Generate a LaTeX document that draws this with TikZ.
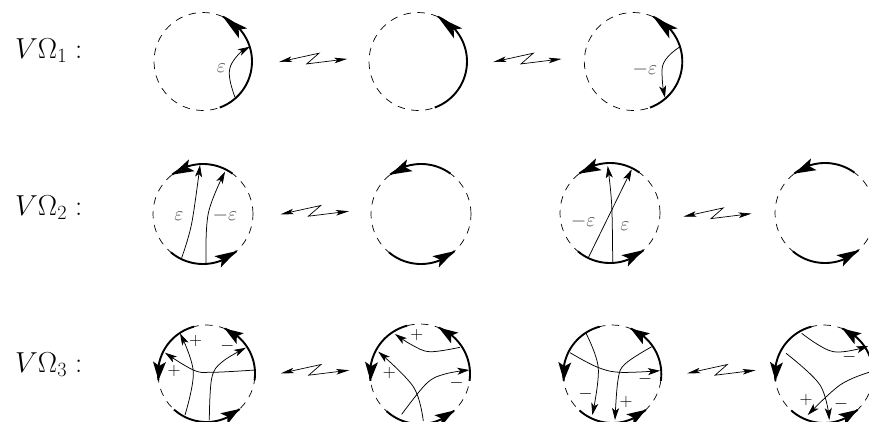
\RequirePackage{fix-cm}
\documentclass[tikz,border=0pt]{standalone}
\usetikzlibrary{arrows.meta,calc}
\tikzset{
  thinline/.style={line width=0.75bp,-{Stealth[length=12bp,width=7bp,inset=3bp]}},
  zigline/.style={line width=0.7bp,{Stealth[length=13bp,width=5.5bp,inset=3bp]}-{Stealth[length=13bp,width=5.5bp,inset=3bp]}},
  thickarc/.style={line width=1.9bp,line cap=butt},
  dashcircle/.style={line width=0.7bp,dash pattern=on 7.5bp off 6.5bp},
  rowlabel/.style={anchor=base west,inner sep=0pt,font=\fontsize{29}{32}\selectfont},
  eps/.style={inner sep=0pt,text=black!70,font=\fontsize{20}{22}\selectfont},
  sign/.style={inner sep=0pt,font=\fontsize{18}{20}\selectfont}
}
% #1 cx, #2 cy, #3 r : dashed circle
\newcommand\dcirc[3]{\draw[dashcircle] (#1,#2) circle[radius=#3 bp];}
% #1 cx, #2 cy, #3 r, #4 from angle, #5 to angle : thick arc
\newcommand\tarc[5]{\draw[thickarc] plot[domain=#4:#5,samples=40] ({#1+#3*cos(\x)},{#2-#3*sin(\x)});}
% #1 cx, #2 cy, #3 r, #4 from angle, #5 to angle, #6 angular length of head : thick arc with head
\newcommand\harc[6]{\tarc{#1}{#2}{#3}{#4}{#5}
  \pgfmathsetmacro\hb{#5+(#4<#5?-1:1)*#6}
  \coordinate (T) at ({#1+#3*cos(#5)},{#2-#3*sin(#5)});
  \coordinate (B) at ({#1+#3*cos(\hb)},{#2-#3*sin(\hb)});
  \fill ($(B)!6.5bp!90:(T)$) -- (T) -- ($(B)!6.5bp!-90:(T)$) -- ($(T)!0.78!(B)$) -- cycle;}
% #1 x, #2 y : lightning connector
\newcommand\zig[2]{\draw[zigline] (#1,#2) -- ++(40,-8.8) -- ++(-12.3,10.7) -- ++(40.6,-5);}
\newcommand\rowtwo[2]{\dcirc{#1}{#2}{50}\harc{#1}{#2}{50}{54}{128}{25}\harc{#1}{#2}{50}{230}{312}{25}}
\newcommand\rowthree[3]{\dcirc{#1}{#2}{#3}\harc{#1}{#2}{#3}{105}{188}{22}\harc{#1}{#2}{#3}{-8}{68}{22}\harc{#1}{#2}{#3}{228}{313}{22}}
\begin{document}
\begin{tikzpicture}[x=1bp,y=-1bp]
\useasboundingbox (0,0) rectangle (869,421);
\clip (0,0) rectangle (869,421);
% row labels
\node[rowlabel] (L1) at (15,58) {$V\Omega_1:$};
\node[rowlabel] (L2) at (15,215) {$V\Omega_2:$};
\node[rowlabel] (L3) at (15,372) {$V\Omega_3:$};
% row 1
\dcirc{203}{61.5}{49}\harc{203}{61.5}{49}{-70}{66}{31}
\draw[thinline] (235,97.3) .. controls (228,78) and (228,70) .. (232,63) .. controls (236,56) and (242,51) .. (250,46.7);
\node[eps] (e1) at (221.5,68) {$\varepsilon$};
\zig{279}{62}
\dcirc{418}{61.5}{49}\harc{418}{61.5}{49}{-70}{66}{31}
\zig{493.3}{62}
\dcirc{633.3}{61.5}{49}\harc{633.3}{61.5}{49}{-70}{66}{31}
\draw[thinline] (680,46.7) .. controls (672,52) and (662,60) .. (662,70) .. controls (662,80) and (663,88) .. (665,97.7);
\node[eps] (e2) at (645,69.3) {$-\varepsilon$};
% row 2
\rowtwo{203}{214}
\draw[thinline] plot[smooth,tension=0.6] coordinates {(181.7,257.7) (191.7,223.3) (200,165)};
\draw[thinline] plot[smooth,tension=0.6] coordinates {(206,263.3) (208.3,213.3) (225,171.7)};
\node[eps] (e3) at (179,216) {$\varepsilon$};
\node[eps] (e4) at (225,216) {$-\varepsilon$};
\zig{280.7}{214.3}
\rowtwo{421}{214}
\rowtwo{610}{213}
\draw[thinline] (588.3,257.7) -- (631.7,169.3);
\draw[thinline] plot[smooth,tension=0.6] coordinates {(612.7,263.3) (611.7,205) (607.7,166)};
\node[eps] (e5) at (583.3,221.7) {$-\varepsilon$};
\node[eps] (e6) at (625,226.7) {$\varepsilon$};
\zig{683.3}{216.7}
\rowtwo{825}{213}
% row 3
\rowthree{206.5}{373.5}{48.5}
\draw[thinline] plot[smooth,tension=0.6] coordinates {(185,415) (193.3,371.7) (180,333.3)};
\draw[thinline] plot[smooth,tension=0.6] coordinates {(209.3,420) (211.7,378.3) (222,362) (246,347.7)};
\draw[thinline] plot[smooth,tension=0.6] coordinates {(255,370) (211.7,372.3) (193.3,370) (165,352.7)};
\node[sign] (s1) at (195.7,340.7) {$\mathbf{+}$};
\node[sign] (s2) at (227.3,346) {$\mathbf{-}$};
\node[sign] (s3) at (174,370.7) {$\mathbf{+}$};
\zig{281}{373.3}
\rowthree{420}{374}{50}
\draw[thinline] plot[smooth,tension=0.6] coordinates {(460,347.3) (430,351.7) (412,345) (395,334)};
\draw[thinline] plot[smooth,tension=0.6] coordinates {(423.3,421) (413.3,386.7) (378.3,351.7)};
\draw[thinline] plot[smooth,tension=0.6] coordinates {(401.7,414.3) (426.7,383.3) (445,374) (469.3,370)};
\node[sign] (s4) at (416.7,335) {$\mathbf{+}$};
\node[sign] (s5) at (389.3,373.3) {$\mathbf{+}$};
\node[sign] (s6) at (456.7,383.3) {$\mathbf{-}$};
\rowthree{612.3}{374}{49}
\draw[thinline] plot[smooth,tension=0.6] coordinates {(586,333.3) (598.3,368.3) (592.3,415)};
\draw[thinline] plot[smooth,tension=0.6] coordinates {(570,352.7) (597,367) (620,372.3) (660,370.7)};
\draw[thinline] plot[smooth,tension=0.6] coordinates {(651.7,346.7) (625,364) (618,380) (615,420)};
\node[sign] (s7) at (645,379) {$\mathbf{-}$};
\node[sign] (s8) at (585.7,394.3) {$\mathbf{-}$};
\node[sign] (s9) at (626,402.3) {$\mathbf{+}$};
\zig{687.3}{373.3}
\rowthree{824}{374}{49}
\draw[thinline] plot[smooth,tension=0.6] coordinates {(801.7,333.3) (833.3,351.7) (868.3,346)};
\draw[thinline] plot[smooth,tension=0.6] coordinates {(786,353.3) (820,385) (829.3,420)};
\draw[thinline] plot[smooth,tension=0.6] coordinates {(869,372.3) (840,385) (807.7,415)};
\node[sign] (s10) at (849.3,356.7) {$\mathbf{-}$};
\node[sign] (s11) at (806,400) {$\mathbf{+}$};
\node[sign] (s12) at (841,404.3) {$\mathbf{-}$};
\end{tikzpicture}
\end{document}
